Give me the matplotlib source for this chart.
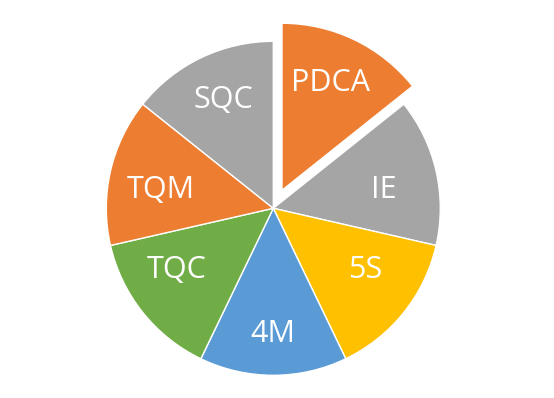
import matplotlib
matplotlib.use("Agg")
import matplotlib.pyplot as plt
import numpy as np

labels = ["PDCA", "IE", "5S", "4M", "TQC", "TQM", "SQC"]
values = [1, 1, 1, 1, 1, 1, 1]
colors = ["#ED7D31", "#A5A5A5", "#FFC000", "#5B9BD5", "#70AD47", "#ED7D31", "#A5A5A5"]
explode = [0.12, 0, 0, 0, 0, 0, 0]

# label placement (style): radial distance and angle tweak relative to wedge mid-angle
label_dist = [0.828, 0.671, 0.662, 0.753, 0.688, 0.683, 0.716]
label_dang = [1.1, -3.3, 4.7, -0.4, -5.8, 3.8, -1.0]

W, H = 554, 398
fig = plt.figure(figsize=(W / 100, H / 100), dpi=100)
ax = fig.add_axes([0, 0, 1, 1])
cx, cy, r = 273.3, 208.3, 167.0

wedges, _ = ax.pie(values, colors=colors, explode=explode,
                   startangle=90, counterclock=False, radius=1.0, frame=True,
                   wedgeprops=dict(edgecolor="white", linewidth=1.0))
for w, lab, d, da in zip(wedges, labels, label_dist, label_dang):
    mid = np.deg2rad((w.theta1 + w.theta2) / 2 + da)
    ax.text(d * np.cos(mid), d * np.sin(mid), lab, color="white", fontsize=22,
            family="Open Sans", ha="center", va="center")

ax.set_xlim(-cx / r, (W - cx) / r)
ax.set_ylim(-(H - cy) / r, cy / r)
ax.set_aspect("auto")
ax.axis("off")

fig.savefig("out.png", dpi=100, facecolor="white")
